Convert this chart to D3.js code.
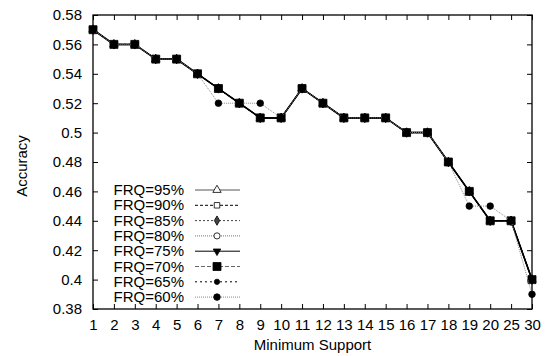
<!DOCTYPE html>
<html>
<head>
<meta charset="utf-8">
<script src="https://cdn.jsdelivr.net/npm/d3@7"></script>
<style>
  body { margin: 0; background: #fff; }
  text { font-family: "Liberation Sans", Arial, sans-serif; }
</style>
</head>
<body>
<div id="chart"></div>
<script>
// data
const supports = ["1","2","3","4","5","6","7","8","9","10","11","12","13","14","15","16","17","18","19","20","25","30"];
const yTicks = [0.38, 0.40, 0.42, 0.44, 0.46, 0.48, 0.50, 0.52, 0.54, 0.56, 0.58];

const accMain = [0.57,0.56,0.56,0.55,0.55,0.54,0.53,0.52,0.51,0.51,0.53,0.52,0.51,0.51,0.51,0.50,0.50,0.48,0.46,0.44,0.44,0.40];
const acc60   = [0.57,0.56,0.56,0.55,0.55,0.54,0.52,0.52,0.52,0.51,0.53,0.52,0.51,0.51,0.51,0.50,0.50,0.48,0.45,0.45,0.44,0.39];

const seriesNames = ["FRQ=95%","FRQ=90%","FRQ=85%","FRQ=80%","FRQ=75%","FRQ=70%","FRQ=65%","FRQ=60%"];
const seriesValues = [accMain, accMain, accMain, accMain, accMain, accMain, accMain, acc60];

// styles per series (gnuplot-ish)
const styles = [
  { color: "#555", dash: null,  sym: "triangle", fill: "none", size: 30 },
  { color: "#000", dash: "3,2", sym: "square",   fill: "none", size: 30 },
  { color: "#444", dash: "2,2", sym: "diamond",  fill: "#444", size: 25 },
  { color: "#777", dash: "1,1", sym: "circle",   fill: "none", size: 30 },
  { color: "#000", dash: null,  sym: "triangle", fill: "#000", size: 25, rot: 180 },
  { color: "#666", dash: "4,2", sym: "square",   fill: "#000", size: 64 },
  { color: "#000", dash: "2,3", sym: "circle",   fill: "#000", size: 22 },
  { color: "#888", dash: "1,1", sym: "circle",   fill: "#000", size: 34 }
];

const width = 546, height = 356;
const margin = { top: 15, right: 14, bottom: 47, left: 93 };
const fontSize = 15;

const svg = d3.select("#chart").append("svg")
  .attr("width", width).attr("height", height);

const x = d3.scalePoint().domain(supports).range([margin.left, width - margin.right]);
const y = d3.scaleLinear().domain([0.38, 0.58]).range([height - margin.bottom, margin.top]);

const fmt = d => (+d.toFixed(2)).toString();

// axes with inward ticks
svg.append("g")
  .attr("transform", `translate(0,${height - margin.bottom})`)
  .call(d3.axisBottom(x).tickSizeInner(-5).tickSizeOuter(0).tickPadding(10))
  .call(g => g.select(".domain").remove());
svg.append("g")
  .attr("transform", `translate(0,${margin.top})`)
  .call(d3.axisTop(x).tickSizeInner(-5).tickSizeOuter(0).tickFormat(""))
  .call(g => g.select(".domain").remove());
svg.append("g")
  .attr("transform", `translate(${margin.left},0)`)
  .call(d3.axisLeft(y).tickValues(yTicks).tickFormat(fmt).tickSizeInner(-5).tickSizeOuter(0).tickPadding(11))
  .call(g => g.select(".domain").remove());
svg.append("g")
  .attr("transform", `translate(${width - margin.right},0)`)
  .call(d3.axisRight(y).tickValues(yTicks).tickFormat("").tickSizeInner(-5).tickSizeOuter(0))
  .call(g => g.select(".domain").remove());

svg.selectAll(".tick text").attr("font-size", fontSize).attr("fill", "#000")
  .style("font-family", "'Liberation Sans', Arial, sans-serif");
svg.selectAll(".tick line").attr("stroke", "#000");

// frame
svg.append("rect")
  .attr("x", margin.left).attr("y", margin.top)
  .attr("width", width - margin.left - margin.right)
  .attr("height", height - margin.top - margin.bottom)
  .attr("fill", "none").attr("stroke", "#000").attr("stroke-width", 1.3);

const symbolFor = s => {
  const t = { triangle: d3.symbolTriangle, square: d3.symbolSquare, diamond: d3.symbolDiamond, circle: d3.symbolCircle }[s.sym];
  return d3.symbol().type(t).size(s.size)();
};

const line = d3.line().x((d, i) => x(supports[i])).y(d => y(d));

seriesValues.forEach((vals, k) => {
  const s = styles[k];
  const g = svg.append("g");
  g.append("path").datum(vals)
    .attr("d", line)
    .attr("fill", "none")
    .attr("stroke", k === 5 || k === 4 ? "#000" : s.color)
    .attr("stroke-width", k === 4 || k === 5 ? 1.5 : 1)
    .attr("stroke-dasharray", k === 5 ? null : s.dash);
  g.selectAll("path.pt").data(vals).join("path")
    .attr("class", "pt")
    .attr("transform", (d, i) => `translate(${x(supports[i])},${y(d)}) rotate(${s.rot || 0})`)
    .attr("d", symbolFor(s))
    .attr("fill", s.fill === "none" ? "#fff" : s.fill)
    .attr("stroke", "#000").attr("stroke-width", 0.8);
});

// legend
const legend = svg.append("g");
seriesNames.forEach((name, k) => {
  const s = styles[k];
  const ly = 190 + k * 15.3;
  legend.append("text")
    .attr("x", 184).attr("y", ly + 5)
    .attr("text-anchor", "end").attr("font-size", fontSize)
    .text(name);
  legend.append("line")
    .attr("x1", 195).attr("x2", 240).attr("y1", ly).attr("y2", ly)
    .attr("stroke", s.color).attr("stroke-width", 1)
    .attr("stroke-dasharray", s.dash);
  legend.append("path")
    .attr("transform", `translate(217,${ly}) rotate(${s.rot || 0})`)
    .attr("d", symbolFor(s))
    .attr("fill", s.fill === "none" ? "#fff" : s.fill)
    .attr("stroke", "#000").attr("stroke-width", 0.8);
});

// axis titles
svg.append("text")
  .attr("x", (margin.left + width - margin.right) / 2).attr("y", 350)
  .attr("text-anchor", "middle").attr("font-size", fontSize)
  .text("Minimum Support");
svg.append("text")
  .attr("transform", `translate(27,${(margin.top + height - margin.bottom) / 2 + 4}) rotate(-90)`)
  .attr("text-anchor", "middle").attr("font-size", fontSize)
  .text("Accuracy");
</script>
</body>
</html>
